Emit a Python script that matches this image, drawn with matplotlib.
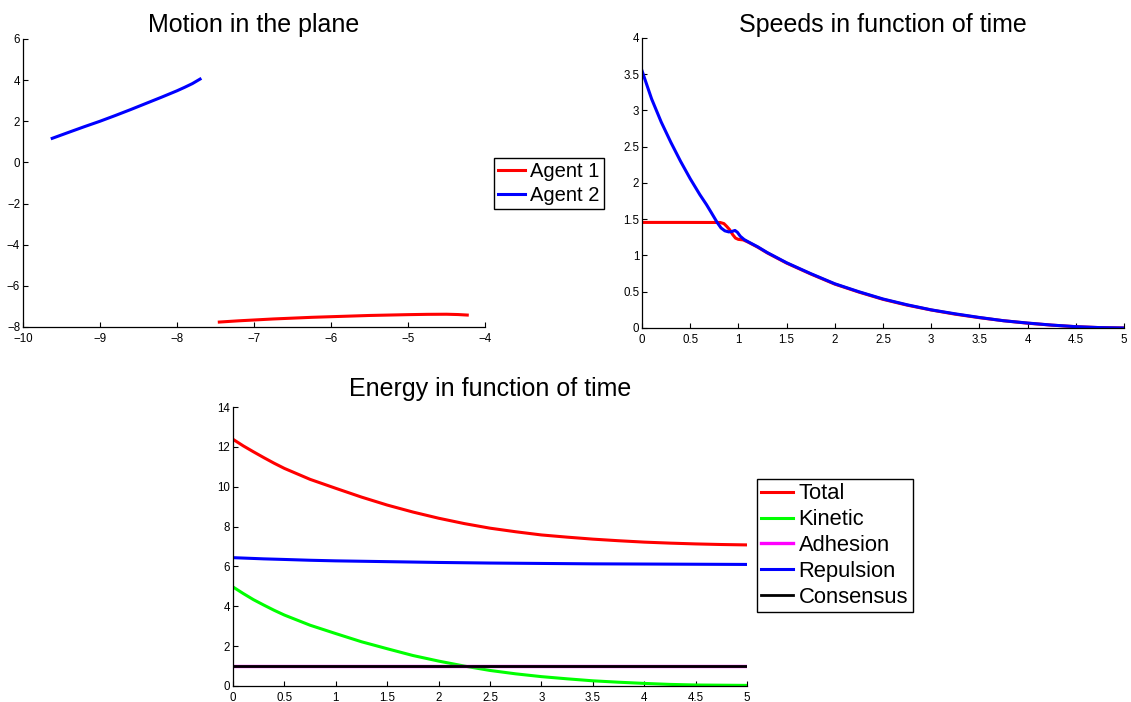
import numpy as np
import matplotlib
matplotlib.use("Agg")
import matplotlib.pyplot as plt
from matplotlib.ticker import FuncFormatter, MultipleLocator

plt.rcParams["font.family"] = ["Liberation Sans", "DejaVu Sans"]

# %% data

# motion in the plane
agent1_x = [-7.45, -7.2, -7.0, -6.75, -6.5, -6.25, -6.0, -5.5, -5.0, -4.75, -4.5, -4.35, -4.23]
agent1_y = [-7.76, -7.70, -7.66, -7.61, -7.57, -7.53, -7.50, -7.44, -7.40, -7.385, -7.38, -7.395, -7.42]
agent2_x = [-9.62, -9.4, -9.2, -9.0, -8.8, -8.6, -8.4, -8.2, -8.0, -7.9, -7.8, -7.70]
agent2_y = [1.17, 1.47, 1.74, 2.0, 2.28, 2.57, 2.87, 3.17, 3.48, 3.65, 3.83, 4.05]

# speeds
t_speed1 = [0, 0.4, 0.81, 0.85, 0.88, 0.91, 0.94, 0.97, 1.0, 1.05, 1.1, 1.2, 1.3, 1.4, 1.5,
            1.75, 2.0, 2.25, 2.5, 2.75, 3.0, 3.25, 3.5, 3.75, 4.0, 4.25, 4.5, 4.75, 5.0]
speed1 = [1.456, 1.456, 1.455, 1.44, 1.40, 1.355, 1.29, 1.24, 1.222, 1.215, 1.185, 1.115, 1.035, 0.965, 0.895,
          0.745, 0.605, 0.495, 0.395, 0.315, 0.248, 0.19, 0.142, 0.1, 0.066, 0.039, 0.018, 0.005, 0.0]
t_speed2 = [0, 0.1, 0.2, 0.3, 0.4, 0.5, 0.6, 0.67, 0.72, 0.78, 0.82, 0.86, 0.9, 0.93, 0.965, 0.99, 1.02, 1.06,
            1.1, 1.2, 1.3, 1.4, 1.5, 1.75, 2.0, 2.25, 2.5, 2.75, 3.0, 3.25, 3.5, 3.75, 4.0, 4.25, 4.5, 4.75, 5.0]
speed2 = [3.55, 3.16, 2.84, 2.56, 2.30, 2.06, 1.84, 1.70, 1.59, 1.456, 1.38, 1.34, 1.325, 1.33, 1.345, 1.32, 1.265, 1.22,
          1.19, 1.12, 1.04, 0.97, 0.90, 0.75, 0.61, 0.50, 0.40, 0.32, 0.25, 0.195, 0.145, 0.10, 0.068, 0.04, 0.018, 0.005, 0.0]

# energy
t_energy = [0, 0.1, 0.2, 0.3, 0.4, 0.5, 0.75, 1.0, 1.25, 1.5, 1.75, 2.0, 2.25, 2.5, 2.75, 3.0, 3.25, 3.5, 3.75,
            4.0, 4.25, 4.5, 4.75, 5.0]
e_total = [12.38, 12.05, 11.75, 11.46, 11.18, 10.92, 10.37, 9.92, 9.48, 9.08, 8.73, 8.42, 8.15, 7.92, 7.74, 7.58,
           7.47, 7.37, 7.29, 7.22, 7.17, 7.13, 7.10, 7.08]
e_kinetic = [4.97, 4.64, 4.33, 4.06, 3.80, 3.56, 3.05, 2.63, 2.22, 1.87, 1.53, 1.25, 1.0, 0.78, 0.61, 0.47, 0.36,
             0.26, 0.19, 0.13, 0.08, 0.05, 0.04, 0.03]
e_adhesion = [1.0] * len(t_energy)
e_repulsion = [6.44, 6.42, 6.40, 6.38, 6.365, 6.35, 6.31, 6.28, 6.26, 6.24, 6.22, 6.2, 6.185, 6.17, 6.16, 6.15,
               6.14, 6.13, 6.125, 6.12, 6.115, 6.11, 6.105, 6.1]
e_consensus = [1.0] * len(t_energy)


# %%
def fmt(v, pos):
    return f"{v:g}".replace("-", "\u2212")


def style(ax):
    for s in ("top", "right"):
        ax.spines[s].set_visible(False)
    for s in ("left", "bottom"):
        ax.spines[s].set_linewidth(0.9)
    ax.tick_params(direction="in", length=3.5, width=0.8, labelsize=8.3)
    ax.tick_params(axis="x", pad=4)
    ax.tick_params(axis="y", pad=2)
    ax.xaxis.set_major_formatter(FuncFormatter(fmt))
    ax.yaxis.set_major_formatter(FuncFormatter(fmt))


leg_kw = dict(fancybox=False, framealpha=1, edgecolor="black",
              borderpad=0.2, handletextpad=0.25, borderaxespad=0)

fig = plt.figure(figsize=(11.31, 7.02), dpi=100)

ax1 = fig.add_axes([0.0203, 0.5342, 0.4085, 0.4103])
ax1.plot(agent1_x, agent1_y, color="red", lw=2.2, label="Agent 1")
ax1.plot(agent2_x, agent2_y, color="blue", lw=2.2, label="Agent 2")
ax1.set_xlim(-10, -4)
ax1.set_ylim(-8, 6)
ax1.xaxis.set_major_locator(MultipleLocator(1))
ax1.yaxis.set_major_locator(MultipleLocator(2))
style(ax1)
ax1.set_title("Motion in the plane", fontsize=18, pad=5)
leg = ax1.legend(loc="upper left", bbox_to_anchor=(0.4368, 0.7749),
                 bbox_transform=fig.transFigure, fontsize=14.5, handlelength=1.35,
                 labelspacing=0.25, **leg_kw)
leg.get_frame().set_linewidth(1.0)

ax2 = fig.add_axes([0.5676, 0.5328, 0.4262, 0.4131])
ax2.plot(t_speed1, speed1, color="red", lw=2.2)
ax2.plot(t_speed2, speed2, color="blue", lw=2.2)
ax2.set_xlim(0, 5)
ax2.set_ylim(0, 4)
ax2.xaxis.set_major_locator(MultipleLocator(0.5))
ax2.yaxis.set_major_locator(MultipleLocator(0.5))
style(ax2)
ax2.set_title("Speeds in function of time", fontsize=18, pad=4)

ax3 = fig.add_axes([0.206, 0.0228, 0.4545, 0.3974])
ax3.plot(t_energy, e_total, color="red", lw=2.2, label="Total")
ax3.plot(t_energy, e_kinetic, color="#00ff00", lw=2.2, label="Kinetic")
ax3.plot(t_energy, e_adhesion, color="magenta", lw=2.4, label="Adhesion")
ax3.plot(t_energy, e_repulsion, color="blue", lw=2.2, label="Repulsion")
ax3.plot(t_energy, e_consensus, color="black", lw=2.0, label="Consensus")
ax3.set_xlim(0, 5)
ax3.set_ylim(0, 14)
ax3.xaxis.set_major_locator(MultipleLocator(0.5))
ax3.yaxis.set_major_locator(MultipleLocator(2))
style(ax3)
ax3.set_title("Energy in function of time", fontsize=18, pad=8)
leg = ax3.legend(loc="upper left", bbox_to_anchor=(0.6693, 0.3177),
                 bbox_transform=fig.transFigure, fontsize=15.8, handlelength=1.45,
                 labelspacing=0.22, **leg_kw)
leg.get_frame().set_linewidth(1.0)

fig.savefig("out.png", dpi=100)
